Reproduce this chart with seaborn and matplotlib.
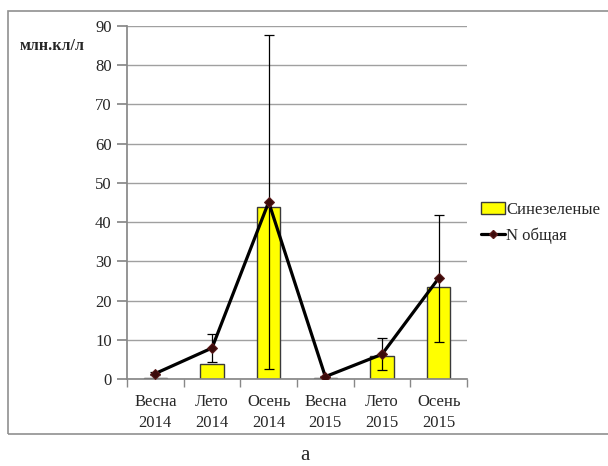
import matplotlib
matplotlib.use("Agg")
import matplotlib.pyplot as plt
import seaborn as sns
import pandas as pd
from matplotlib.patches import Rectangle, Patch
from matplotlib.lines import Line2D

categories = ["Весна\n2014", "Лето\n2014", "Осень\n2014", "Весна\n2015", "Лето\n2015", "Осень\n2015"]
cyano = [0.3, 3.8, 43.9, 0.2, 5.9, 23.5]
n_total = [1.4, 7.9, 45.1, 0.6, 6.3, 25.7]
n_err = [0.5, 3.5, 42.6, 0.2, 4.1, 16.2]
yticks = [0, 10, 20, 30, 40, 50, 60, 70, 80, 90]

sns.set_theme(style="white")
plt.rcParams["font.family"] = ["Liberation Serif", "DejaVu Serif"]

df = pd.DataFrame({"cat": categories, "cyano": cyano, "n": n_total, "err": n_err})

fig = plt.figure(figsize=(6.08, 4.66), dpi=100)
ax = fig.add_axes([127/608, 1-379/466, (467-127)/608, (379-26)/466])

sns.barplot(data=df, x="cat", y="cyano", ax=ax, color="#FFFF00",
            edgecolor="#3a3a3a", linewidth=1.0, width=0.41, saturation=1)
ax.errorbar(df["cat"], df["n"], yerr=df["err"], fmt="none",
            ecolor="black", elinewidth=0.9, capsize=3.5, capthick=0.9, zorder=4)
sns.lineplot(data=df, x="cat", y="n", ax=ax, color="black", linewidth=2.3,
             marker="D", markersize=5, markerfacecolor="#3b0b0b",
             markeredgecolor="#5a1a1a", sort=False, zorder=5)

ax.set_ylim(0, 90)
ax.set_xlim(-0.5, 5.5)
ax.set_yticks(yticks)
ax.set_yticklabels([str(v) for v in yticks], fontsize=12)
ax.yaxis.grid(True, color="#a0a0a0", linewidth=1.0)
ax.set_axisbelow(True)
ax.set_xlabel("")
ax.set_ylabel("")
for s in ["top", "right"]:
    ax.spines[s].set_visible(False)
ax.spines["left"].set_color("#888888")
ax.spines["bottom"].set_color("#888888")
ax.tick_params(axis="y", which="major", length=7, color="#888888", left=True, pad=4)
ax.tick_params(axis="x", which="major", length=0, labelsize=12, pad=11)
ax.set_xticks(range(6))
ax.set_xticklabels(categories, fontsize=12, linespacing=1.4)
ax.set_xticks([i - 0.5 for i in range(7)], minor=True)
ax.tick_params(axis="x", which="minor", length=6, color="#888888", bottom=True)

fig.text(20/608, 1-46/466, "млн.кл/л", fontsize=11.5, fontweight="bold", va="center", ha="left")
fig.text(305/608, 1-455/466, "а", fontsize=15, ha="center", va="center")

handles = [Patch(facecolor="#FFFF00", edgecolor="#3a3a3a", linewidth=1.0, label="Синезеленые"),
           Line2D([0], [0], color="black", linewidth=2.3, marker="D", markersize=4,
                  markerfacecolor="#3b0b0b", markeredgecolor="#5a1a1a", label="N общая")]
fig.legend(handles=handles, loc="center left", bbox_to_anchor=(481/608, 1-223/466),
           frameon=False, fontsize=12, handlelength=1.45, handletextpad=0.05,
           labelspacing=0.6, borderpad=0, borderaxespad=0)

fig.patches.append(Rectangle((8/608, 1-434/466), 1.0, (434-11)/466, transform=fig.transFigure,
                             fill=False, edgecolor="#909090", linewidth=1.2))

fig.savefig("out.png", dpi=100)
